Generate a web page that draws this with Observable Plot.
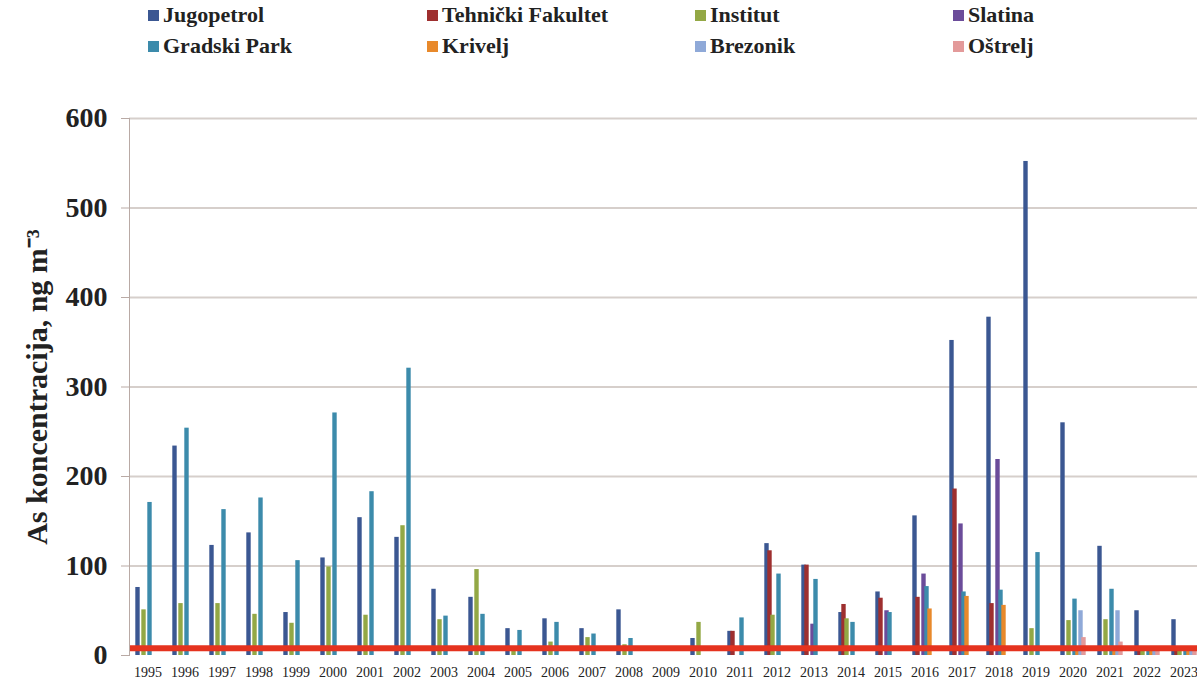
<!DOCTYPE html>
<html>
<head>
<meta charset="utf-8">
<script src="https://cdn.jsdelivr.net/npm/d3@7"></script>
<script src="https://cdn.jsdelivr.net/npm/@observablehq/plot@0.6"></script>
<style>
  html, body { margin: 0; padding: 0; background: #ffffff; }
  body { width: 1197px; height: 688px; overflow: hidden; font-family: "Liberation Serif", "DejaVu Serif", serif; }
  #legend { position: relative; height: 70px; width: 1197px; }
  .item { position: absolute; display: flex; align-items: center; font-size: 22px; font-weight: bold; color: #222; white-space: nowrap; }
  .sw { width: 11px; height: 11px; margin-right: 4px; }
  #chart svg { display: block; }
</style>
</head>
<body>
<div id="legend"></div>
<div id="chart"></div>
<script>
const years = [1995,1996,1997,1998,1999,2000,2001,2002,2003,2004,2005,2006,2007,2008,2009,2010,2011,2012,2013,2014,2015,2016,2017,2018,2019,2020,2021,2022,2023];
const seriesNames = ["Jugopetrol","Tehnički Fakultet","Institut","Slatina","Gradski Park","Krivelj","Brezonik","Oštrelj"];
const seriesColors = ["#3b5792","#9e2f2f","#93a845","#6b4c9a","#3c8bab","#e8892b","#8fa9d8","#e39a9a"];

//                 1995 1996 1997 1998 1999 2000 2001 2002 2003 2004 2005 2006 2007 2008 2009 2010 2011 2012 2013 2014 2015 2016 2017 2018 2019 2020 2021 2022 2023
const jugopetrol  = [76, 234, 123, 137, 48, 109, 154, 132, 74, 65, 30, 41, 30, 51, null, 19, 27, 125, 101, 48, 71, 156, 352, 378, 552, 260, 122, 50, 40];
const tehnicki    = [null,null,null,null,null,null,null,null,null,null,null,null,null,null,null,null, 27, 117, 101, 57, 64, 65, 186, 58, null, null, null, 6, 6];
const institut    = [51, 58, 58, 46, 36, 99, 45, 145, 40, 96, 9, 15, 20, 12, null, 37, null, 45, null, 41, null, null, null, null, 30, 39, 40, 7, 7];
const slatina     = [null,null,null,null,null,null,null,null,null,null,null,null,null,null,null,null,null,null, 35, null, 50, 91, 147, 219, null, null, null, null, null];
const gradskiPark = [171, 254, 163, 176, 106, 271, 183, 321, 44, 46, 28, 37, 24, 19, null, null, 42, 91, 85, 37, 48, 77, 71, 73, 115, 63, 74, 8, 8];
const krivelj     = [null,null,null,null,null,null,null,null,null,null,null,null,null,null,null,null,null,null,null,null,null, 52, 66, 56, null, 10, 8, 6, 6];
const brezonik    = [null,null,null,null,null,null,null,null,null,null,null,null,null,null,null,null,null,null,null,null,null,null,null,null,null, 50, 50, 6, 8];
const ostrelj     = [null,null,null,null,null,null,null,null,null,null,null,null,null,null,null,null,null,null,null,null,null,null,null,null,null, 20, 15, 5, 5];
const targetValue = 8;
const yTicks = [0,100,200,300,400,500,600];
const gridValues = [100,200,300,400,500,600];

const seriesValues = [jugopetrol, tehnicki, institut, slatina, gradskiPark, krivelj, brezonik, ostrelj];
const data = [];
seriesNames.forEach((s, i) => {
  years.forEach((yr, j) => {
    const v = seriesValues[i][j];
    if (v != null) data.push({year: yr, series: s, value: v});
  });
});
// per-year rows for the grid and the target line, so every year's facet is drawn
const gridRows = years.flatMap(yr => gridValues.map(g => ({year: yr, value: g})));
const targetRows = years.map(yr => ({year: yr, value: targetValue}));

// Legend
const legendPos = [[148,2],[427,2],[695,2],[953,2],[148,33],[427,33],[695,33],[953,33]];
const legend = document.getElementById("legend");
seriesNames.forEach((s, i) => {
  const it = document.createElement("div");
  it.className = "item";
  it.style.left = legendPos[i][0] + "px";
  it.style.top = legendPos[i][1] + "px";
  it.innerHTML = `<span class="sw" style="background:${seriesColors[i]}"></span><span>${s}</span>`;
  legend.appendChild(it);
});

const chart = Plot.plot({
  width: 1197,
  height: 618,
  marginLeft: 123,
  marginRight: -10,
  marginTop: 48,
  marginBottom: 33,
  style: {fontFamily: "Liberation Serif", background: "transparent", color: "#222"},
  fx: {domain: years, padding: 0},
  x: {domain: seriesNames, axis: null, paddingInner: 0.1, paddingOuter: 0.8},
  y: {domain: [0, 600]},
  color: {domain: seriesNames, range: seriesColors},
  marks: [
    Plot.ruleY(gridRows, {fx: "year", y: "value", stroke: "#d6cfcb", strokeWidth: 2}),
    Plot.barY(data, {fx: "year", x: "series", y: "value", fill: "series", insetLeft: -0.7, insetRight: -0.7}),
    Plot.ruleY(targetRows, {fx: "year", y: "value", stroke: "#e5331f", strokeWidth: 6}),
    Plot.frame({anchor: "left", facet: "super", stroke: "#b9aaa5"}),
    Plot.axisY({ticks: yTicks, tickSize: 8, tickPadding: 14, facetAnchor: "left", stroke: "#b9aaa5",
      label: "As koncentracija, ng m⁻³", labelAnchor: "center", labelArrow: false, labelOffset: 104}),
    Plot.axisFx({anchor: "bottom", tickSize: 0, tickPadding: 12, tickFormat: d => String(d), label: null})
  ]
});
document.getElementById("chart").appendChild(chart);

chart.querySelectorAll('[aria-label^="y-axis"] text').forEach(t => {
  if (/^\d+$/.test(t.textContent.trim())) {
    t.style.fontSize = "28px"; t.style.fontWeight = "bold";
  } else {
    t.style.fontSize = "30px"; t.style.fontWeight = "bold";
  }
});
chart.querySelectorAll('[aria-label^="fx-axis"] text').forEach(t => {
  t.style.fontSize = "14px";
});
</script>
</body>
</html>
